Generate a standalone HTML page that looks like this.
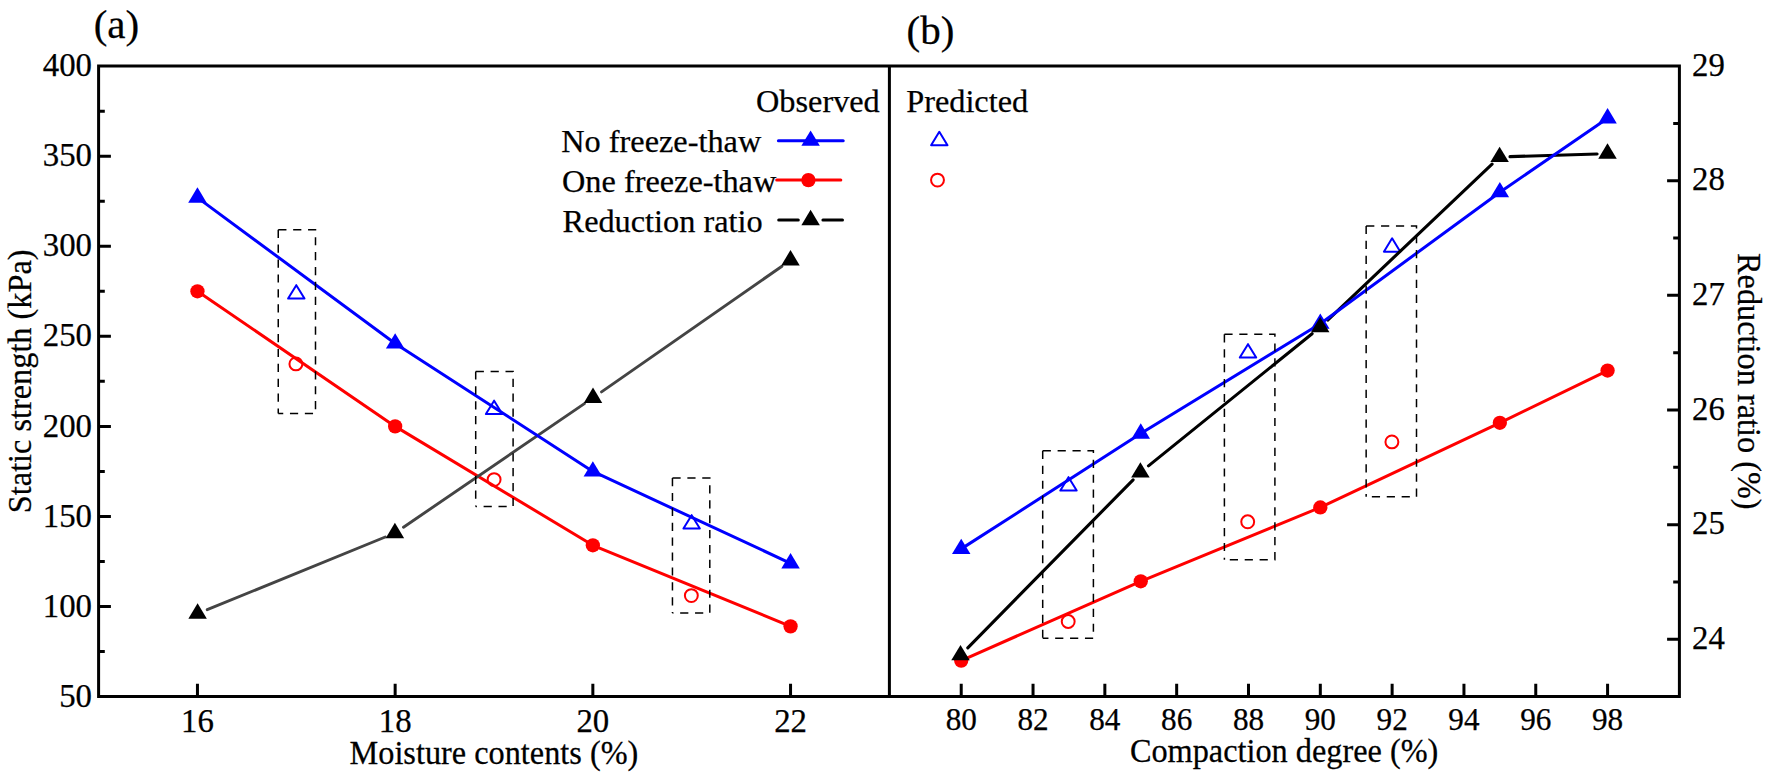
<!DOCTYPE html>
<html><head><meta charset="utf-8"><title>Static strength</title>
<style>
html,body{margin:0;padding:0;background:#fff;}
body{width:1770px;height:779px;overflow:hidden;}
svg{display:block;}
text{font-family:"Liberation Serif",serif;font-size:32.8px;fill:#000;stroke:#000;stroke-width:0.25px;}
.t{font-size:32.3px;}
.p{font-size:41px;}
.ax{stroke:#000;stroke-width:3;fill:none;stroke-linecap:butt;}
.db{stroke:#000;stroke-width:1.5;fill:none;stroke-dasharray:8.2 6.7;}
</style></head><body>
<svg width="1770" height="779" viewBox="0 0 1770 779">
<rect width="1770" height="779" fill="#fff"/>
<polygon points="296.30,285.15 288.10,298.55 304.50,298.55" fill="none" stroke="#00f" stroke-width="2" stroke-linejoin="round"/>
<polygon points="494.10,400.65 485.90,414.05 502.30,414.05" fill="none" stroke="#00f" stroke-width="2" stroke-linejoin="round"/>
<polygon points="691.65,515.15 683.45,528.55 699.85,528.55" fill="none" stroke="#00f" stroke-width="2" stroke-linejoin="round"/>
<polygon points="1068.50,477.15 1060.30,490.55 1076.70,490.55" fill="none" stroke="#00f" stroke-width="2" stroke-linejoin="round"/>
<polygon points="1248.00,344.15 1239.80,357.55 1256.20,357.55" fill="none" stroke="#00f" stroke-width="2" stroke-linejoin="round"/>
<polygon points="1392.10,238.25 1383.90,251.65 1400.30,251.65" fill="none" stroke="#00f" stroke-width="2" stroke-linejoin="round"/>
<circle cx="295.90" cy="363.90" r="6.45" fill="none" stroke="#f00" stroke-width="2"/>
<circle cx="494.10" cy="479.60" r="6.45" fill="none" stroke="#f00" stroke-width="2"/>
<circle cx="691.35" cy="595.60" r="6.45" fill="none" stroke="#f00" stroke-width="2"/>
<circle cx="1068.20" cy="621.50" r="6.45" fill="none" stroke="#f00" stroke-width="2"/>
<circle cx="1247.70" cy="521.80" r="6.45" fill="none" stroke="#f00" stroke-width="2"/>
<circle cx="1391.90" cy="441.90" r="6.45" fill="none" stroke="#f00" stroke-width="2"/>
<polyline points="197.45,291.28 395.15,426.39 592.85,545.28 790.55,626.34" fill="none" stroke="#f00" stroke-width="3" stroke-linejoin="round"/>
<polyline points="961.22,660.57 1140.76,581.31 1320.31,507.45 1499.85,422.78 1607.58,370.54" fill="none" stroke="#f00" stroke-width="3" stroke-linejoin="round"/>
<circle cx="197.45" cy="291.28" r="7.15" fill="#f00"/>
<circle cx="395.15" cy="426.39" r="7.15" fill="#f00"/>
<circle cx="592.85" cy="545.28" r="7.15" fill="#f00"/>
<circle cx="790.55" cy="626.34" r="7.15" fill="#f00"/>
<circle cx="961.22" cy="660.57" r="7.15" fill="#f00"/>
<circle cx="1140.76" cy="581.31" r="7.15" fill="#f00"/>
<circle cx="1320.31" cy="507.45" r="7.15" fill="#f00"/>
<circle cx="1499.85" cy="422.78" r="7.15" fill="#f00"/>
<circle cx="1607.58" cy="370.54" r="7.15" fill="#f00"/>
<path d="M207.23,609.67L385.27,537.03M403.49,527.23L584.41,403.67M601.54,391.86L781.96,266.24" fill="none" stroke="#444" stroke-width="2.9" stroke-linecap="round"/>
<path d="M967.79,647.79L1133.11,479.81M1148.49,465.87L1312.11,333.73M1327.74,320.04L1492.06,164.16M1509.99,156.67L1597.11,153.93" fill="none" stroke="#000" stroke-width="3.1" stroke-linecap="round"/>
<polyline points="197.45,197.60 395.15,343.52 592.85,471.42 790.55,563.29" fill="none" stroke="#00f" stroke-width="3" stroke-linejoin="round"/>
<polyline points="961.22,548.88 1140.76,433.59 1320.31,323.70 1499.85,192.20 1607.58,118.34" fill="none" stroke="#00f" stroke-width="3" stroke-linejoin="round"/>
<polygon points="197.45,187.35 188.20,202.70 206.70,202.70" fill="#00f"/>
<polygon points="395.15,333.27 385.90,348.62 404.40,348.62" fill="#00f"/>
<polygon points="592.85,461.17 583.60,476.52 602.10,476.52" fill="#00f"/>
<polygon points="790.55,553.04 781.30,568.39 799.80,568.39" fill="#00f"/>
<polygon points="961.22,538.63 951.97,553.98 970.47,553.98" fill="#00f"/>
<polygon points="1140.76,423.34 1131.51,438.69 1150.01,438.69" fill="#00f"/>
<polygon points="1320.31,313.45 1311.06,328.80 1329.56,328.80" fill="#00f"/>
<polygon points="1499.85,181.95 1490.60,197.30 1509.10,197.30" fill="#00f"/>
<polygon points="1607.58,108.09 1598.33,123.44 1616.83,123.44" fill="#00f"/>
<polygon points="197.60,603.35 188.35,618.70 206.85,618.70" fill="#000"/>
<polygon points="394.90,522.85 385.65,538.20 404.15,538.20" fill="#000"/>
<polygon points="593.00,387.55 583.75,402.90 602.25,402.90" fill="#000"/>
<polygon points="790.50,250.05 781.25,265.40 799.75,265.40" fill="#000"/>
<polygon points="960.50,644.95 951.25,660.30 969.75,660.30" fill="#000"/>
<polygon points="1140.40,462.15 1131.15,477.50 1149.65,477.50" fill="#000"/>
<polygon points="1320.20,316.95 1310.95,332.30 1329.45,332.30" fill="#000"/>
<polygon points="1499.60,146.75 1490.35,162.10 1508.85,162.10" fill="#000"/>
<polygon points="1607.50,143.35 1598.25,158.70 1616.75,158.70" fill="#000"/>
<path class="db" d="M278.25,229.7H315.5V413.5H278.25M278.25,229.7V413.5"/>
<path class="db" d="M475.7,371.4H513.1V506.4H475.7M475.7,371.4V506.4"/>
<path class="db" d="M672.45,478.0H709.8V612.9H672.45M672.45,478.0V612.9"/>
<path class="db" d="M1042.7,450.85H1093.4V638.3H1042.7M1042.7,450.85V638.3"/>
<path class="db" d="M1224.4,334.3H1274.9V559.8H1224.4M1224.4,334.3V559.8"/>
<path class="db" d="M1366.15,225.9H1416.5V496.7H1366.15M1366.15,225.9V496.7"/>
<path class="ax" d="M98.6,698.1V66.1H1679.4V698.1M97.1,696.6H1680.9M889.4,66.1V696.6"/>
<path class="ax" d="M98.6,651.56h6.2M98.6,606.53h12.3M98.6,561.49h6.2M98.6,516.46h12.3M98.6,471.42h6.2M98.6,426.39h12.3M98.6,381.35h6.2M98.6,336.31h12.3M98.6,291.28h6.2M98.6,246.24h12.3M98.6,201.21h6.2M98.6,156.17h12.3M98.6,111.14h6.2M197.45,696.6v-12.8M395.15,696.6v-12.8M592.85,696.6v-12.8M790.55,696.6v-12.8M961.22,696.6v-12.8M1033.04,696.6v-12.8M1104.85,696.6v-12.8M1176.67,696.6v-12.8M1248.49,696.6v-12.8M1320.31,696.6v-12.8M1392.13,696.6v-12.8M1463.95,696.6v-12.8M1535.76,696.6v-12.8M1607.58,696.6v-12.8M1679.4,639.28h-12.3M1679.4,581.96h-6.2M1679.4,524.65h-12.3M1679.4,467.33h-6.2M1679.4,410.01h-12.3M1679.4,352.69h-6.2M1679.4,295.37h-12.3M1679.4,238.05h-6.2M1679.4,180.74h-12.3M1679.4,123.42h-6.2"/>
<text x="92" y="706.75" text-anchor="end">50</text>
<text x="92" y="616.68" text-anchor="end">100</text>
<text x="92" y="526.61" text-anchor="end">150</text>
<text x="92" y="436.54" text-anchor="end">200</text>
<text x="92" y="346.46" text-anchor="end">250</text>
<text x="92" y="256.39" text-anchor="end">300</text>
<text x="92" y="166.32" text-anchor="end">350</text>
<text x="92" y="76.25" text-anchor="end">400</text>
<text x="197.45" y="732.3" text-anchor="middle">16</text>
<text x="395.15" y="732.3" text-anchor="middle">18</text>
<text x="592.85" y="732.3" text-anchor="middle">20</text>
<text x="790.55" y="732.3" text-anchor="middle">22</text>
<text x="961.22" y="729.7" text-anchor="middle" style="font-size:31.2px">80</text>
<text x="1033.04" y="729.7" text-anchor="middle" style="font-size:31.2px">82</text>
<text x="1104.85" y="729.7" text-anchor="middle" style="font-size:31.2px">84</text>
<text x="1176.67" y="729.7" text-anchor="middle" style="font-size:31.2px">86</text>
<text x="1248.49" y="729.7" text-anchor="middle" style="font-size:31.2px">88</text>
<text x="1320.31" y="729.7" text-anchor="middle" style="font-size:31.2px">90</text>
<text x="1392.13" y="729.7" text-anchor="middle" style="font-size:31.2px">92</text>
<text x="1463.95" y="729.7" text-anchor="middle" style="font-size:31.2px">94</text>
<text x="1535.76" y="729.7" text-anchor="middle" style="font-size:31.2px">96</text>
<text x="1607.58" y="729.7" text-anchor="middle" style="font-size:31.2px">98</text>
<text x="1692" y="648.93">24</text>
<text x="1692" y="534.30">25</text>
<text x="1692" y="419.66">26</text>
<text x="1692" y="305.02">27</text>
<text x="1692" y="190.39">28</text>
<text x="1692" y="75.75">29</text>
<text class="t" transform="translate(493.9,763.8) scale(1,1.05)" text-anchor="middle">Moisture contents (%)</text>
<text class="t" transform="translate(1284.1,762.3) scale(1,1.05)" text-anchor="middle">Compaction degree (%)</text>
<text class="t" transform="translate(31.2,381.3) rotate(-90) scale(1,1.05)" text-anchor="middle">Static strength (kPa)</text>
<text class="t" transform="translate(1738.2,381.3) rotate(90) scale(1,1.05)" text-anchor="middle">Reduction ratio (%)</text>
<text class="p" x="93.7" y="37.9">(a)</text>
<text class="p" x="906.6" y="43.7">(b)</text>
<text class="t" x="756" y="112.4">Observed</text>
<text class="t" x="906.2" y="112.4">Predicted</text>
<text class="t" x="561.3" y="151.9">No freeze-thaw</text>
<text class="t" x="562" y="191.9">One freeze-thaw</text>
<text class="t" x="562.6" y="231.6">Reduction ratio</text>
<path d="M778.4,140.75H843.2" stroke="#00f" stroke-width="3" stroke-linecap="round"/><polygon points="810.60,130.50 801.35,145.85 819.85,145.85" fill="#00f"/>
<path d="M776.7,180.1H840.8" stroke="#f00" stroke-width="3" stroke-linecap="round"/><circle cx="808.40" cy="180.10" r="7.15" fill="#f00"/>
<path d="M778.7,220.1H798.3M822.9,220.1H842.5" stroke="#000" stroke-width="3" stroke-linecap="round"/><polygon points="810.60,209.85 801.35,225.20 819.85,225.20" fill="#000"/>
<polygon points="939.30,131.85 931.10,145.25 947.50,145.25" fill="none" stroke="#00f" stroke-width="2" stroke-linejoin="round"/>
<circle cx="937.50" cy="180.10" r="6.45" fill="none" stroke="#f00" stroke-width="2"/>
</svg></body></html>
